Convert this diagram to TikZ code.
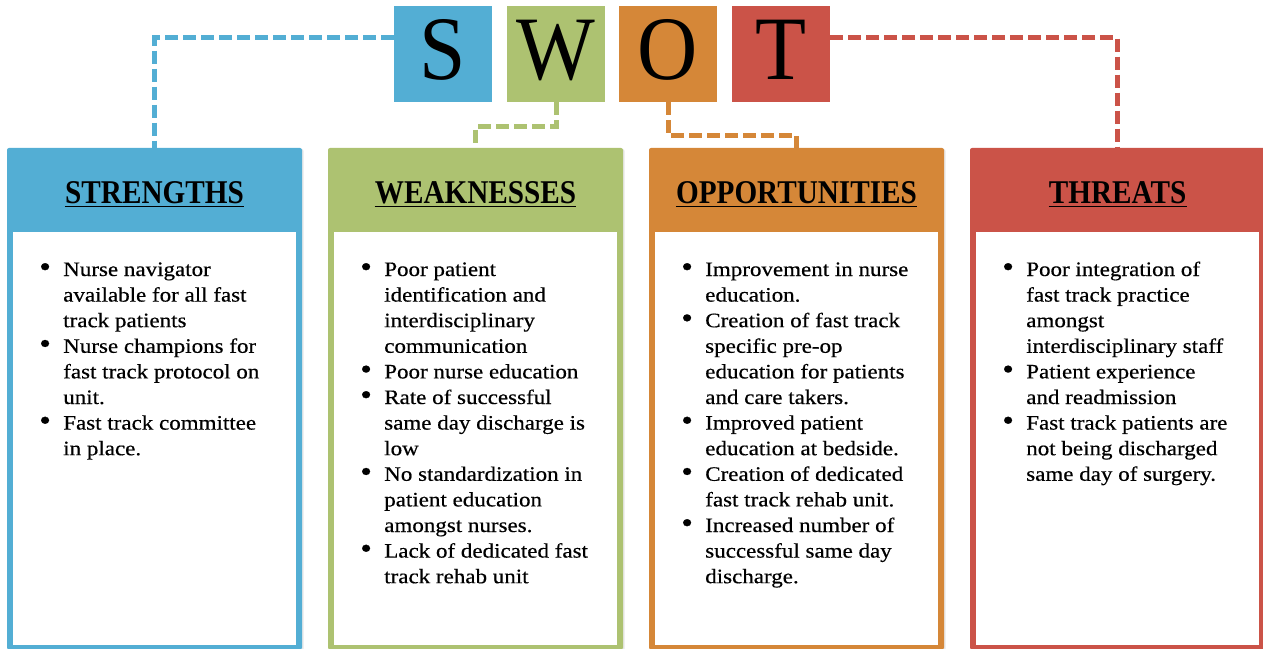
\documentclass[tikz,border=0pt]{standalone}
\usepackage{fontspec}
\usepackage{array}
\setmainfont{Liberation Serif}
\newfontfamily\bodyfont[FakeStretch=1.12,FakeBold=0.45]{Liberation Serif}
\newfontfamily\headfont[FakeStretch=0.88]{Liberation Serif}
\newfontfamily\letterfont[FakeStretch=0.92]{Liberation Serif}
\usetikzlibrary{calc,shadows}
\definecolor{sblue}{RGB}{83,174,212}
\definecolor{sgreen}{RGB}{173,194,113}
\definecolor{sorange}{RGB}{213,135,56}
\definecolor{sred}{RGB}{203,83,72}
\newcommand{\bul}{\raisebox{-0.4pt}{\scalebox{1.45}{\textbullet}}}
\begin{document}
\begin{tikzpicture}[x=0.75pt,y=-0.75pt,
  letterbox/.style={fill=#1, minimum width=73.5pt, minimum height=72pt,
    inner sep=0pt, text height=39pt, text depth=0pt,
    font=\letterfont\fontsize{68}{68}\selectfont},
  panel/.style={fill=#1, rounded corners=1.5pt, minimum width=221.25pt,
    minimum height=376.125pt, inner sep=0pt,
    drop shadow={opacity=0.18, shadow xshift=1.2pt, shadow yshift=-0.8pt}},
  head/.style={font=\headfont\bfseries\fontsize{24.9}{28}\selectfont,
    inner sep=0pt, anchor=base},
  body/.style={font=\bodyfont\fontsize{15.4}{19.2}\selectfont,
    inner sep=0pt, anchor=base west},
  link/.style={draw=#1, line width=3.75pt, dash pattern=on 9.75pt off 3.75pt},
  uline/.style={line width=1.1pt}]
\useasboundingbox (0,0) rectangle (1263,649);
\clip (0,0) rectangle (1263,649);

% four panels
\node[panel=sblue]   (str)  at (154.5,398.75)  {};
\node[panel=sgreen]  (weak) at (475.5,398.75)  {};
\node[panel=sorange] (opp)  at (796.5,398.75)  {};
\node[panel=sred]    (thr)  at (1117.5,398.75) {};
\foreach \p in {str,weak,opp,thr}
  \fill[white] ([xshift=4.5pt,yshift=-63pt]\p.north west)
     rectangle ([xshift=-4.5pt,yshift=3.375pt]\p.south east);

% letter tiles
\node[letterbox=sblue]   (S) at (443,54) {S};
\node[letterbox=sgreen]  (W) at (556,54) {W};
\node[letterbox=sorange] (O) at (668,54) {O};
\node[letterbox=sred]    (T) at (781,54) {T};

% dashed connectors
\coordinate (sL) at ($(S.north west)!0.333!(S.south west)$);
\coordinate (tR) at ($(T.north east)!0.333!(T.south east)$);
\coordinate (wk) at ($(W.south)!0.54!(weak.north)$);
\coordinate (op) at ($(O.south)!0.72!(opp.north)$);
\draw[link=sblue] (sL) -| (str.north);
\draw[link=sred] (tR) -| (thr.north);
\draw[link=sgreen] (W.south) -- (W.south |- wk) -| (weak.north);
\draw[link=sorange] (O.south) -- (O.south |- op) -| (opp.north);

% headings
\node[head] (strh)  at (154.5,204)  {STRENGTHS};
\node[head] (weakh) at (475.5,204)  {WEAKNESSES};
\node[head] (opph)  at (796.5,204)  {OPPORTUNITIES};
\node[head] (thrh)  at (1117.5,204) {THREATS};
\foreach \h in {strh,weakh,opph,thrh}
  \draw[uline] ([yshift=-1.9pt]\h.base west) -- ([yshift=-1.9pt]\h.base east);

% bullet lists
\node[body] (strb) at (39,276) {\begin{tabular}[t]{@{}p{18pt}@{}l@{}}
\bul & Nurse navigator\\
 & available for all fast\\
 & track patients\\
\bul & Nurse champions for\\
 & fast track protocol on\\
 & unit.\\
\bul & Fast track committee\\
 & in place.
\end{tabular}};

\node[body] (weakb) at (360,276) {\begin{tabular}[t]{@{}p{18pt}@{}l@{}}
\bul & Poor patient\\
 & identification and\\
 & interdisciplinary\\
 & communication\\
\bul & Poor nurse education\\
\bul & Rate of successful\\
 & same day discharge is\\
 & low\\
\bul & No standardization in\\
 & patient education\\
 & amongst nurses.\\
\bul & Lack of dedicated fast\\
 & track rehab unit
\end{tabular}};

\node[body] (oppb) at (681,276) {\begin{tabular}[t]{@{}p{18pt}@{}l@{}}
\bul & Improvement in nurse\\
 & education.\\
\bul & Creation of fast track\\
 & specific pre-op\\
 & education for patients\\
 & and care takers.\\
\bul & Improved patient\\
 & education at bedside.\\
\bul & Creation of dedicated\\
 & fast track rehab unit.\\
\bul & Increased number of\\
 & successful same day\\
 & discharge.
\end{tabular}};

\node[body] (thrb) at (1002,276) {\begin{tabular}[t]{@{}p{18pt}@{}l@{}}
\bul & Poor integration of\\
 & fast track practice\\
 & amongst\\
 & interdisciplinary staff\\
\bul & Patient experience\\
 & and readmission\\
\bul & Fast track patients are\\
 & not being discharged\\
 & same day of surgery.
\end{tabular}};
\end{tikzpicture}
\end{document}
